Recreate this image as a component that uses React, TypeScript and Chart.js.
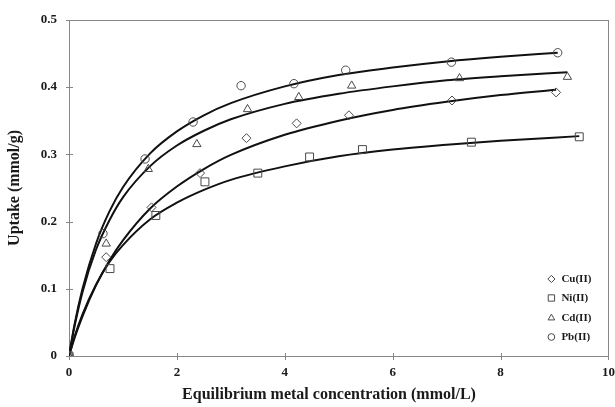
import { useEffect, useRef } from "react";
import { Chart, registerables } from "chart.js";
import { drawPoint } from "chart.js/helpers";

Chart.register(...registerables);

// Experimental data (mmol/L, mmol/g)
const cuX = [0, 0.69, 1.53, 2.43, 3.29, 4.22, 5.19, 7.1, 9.03];
const cuY = [0, 0.147, 0.221, 0.272, 0.324, 0.346, 0.358, 0.38, 0.392];
const niX = [0, 0.76, 1.61, 2.52, 3.5, 4.46, 5.44, 7.46, 9.46];
const niY = [0, 0.13, 0.209, 0.259, 0.272, 0.296, 0.307, 0.318, 0.326];
const cdX = [0, 0.69, 1.47, 2.37, 3.31, 4.26, 5.24, 7.24, 9.24];
const cdY = [0, 0.167, 0.278, 0.315, 0.367, 0.385, 0.402, 0.413, 0.415];
const pbX = [0, 0.63, 1.41, 2.3, 3.19, 4.17, 5.13, 7.09, 9.06];
const pbY = [0, 0.182, 0.293, 0.348, 0.402, 0.405, 0.425, 0.437, 0.451];

// Fitted curves
const cuFitX = [0, 0.1, 0.25, 0.5, 0.75, 1, 1.5, 2, 2.5, 3, 4, 5, 6, 7, 8, 9.03];
const cuFitY = [0, 0.026, 0.059, 0.105, 0.142, 0.172, 0.219, 0.252, 0.278, 0.299, 0.329, 0.35, 0.366, 0.378, 0.388, 0.396];
const niFitX = [0, 0.1, 0.25, 0.5, 0.75, 1, 1.5, 2, 2.5, 3, 4, 5, 6, 7, 8, 9.46];
const niFitY = [0, 0.028, 0.062, 0.106, 0.14, 0.165, 0.203, 0.228, 0.247, 0.262, 0.282, 0.297, 0.307, 0.314, 0.32, 0.327];
const cdFitX = [0, 0.1, 0.25, 0.5, 0.75, 1, 1.5, 2, 2.5, 3, 4, 5, 6, 7, 8, 9.24];
const cdFitY = [0, 0.043, 0.095, 0.158, 0.202, 0.236, 0.282, 0.313, 0.335, 0.352, 0.375, 0.39, 0.401, 0.41, 0.416, 0.422];
const pbFitX = [0, 0.1, 0.25, 0.5, 0.75, 1, 1.5, 2, 2.5, 3, 4, 5, 6, 7, 8, 9.06];
const pbFitY = [0, 0.046, 0.1, 0.167, 0.215, 0.251, 0.301, 0.334, 0.358, 0.376, 0.401, 0.418, 0.429, 0.438, 0.445, 0.451];

const seriesNames = ["Cu(II)", "Ni(II)", "Cd(II)", "Pb(II)"];
const xTitle = "Equilibrium metal concentration (mmol/L)";
const yTitle = "Uptake (mmol/g)";

const FONT = "'Liberation Serif', 'Times New Roman', serif";
const FRAME = "#868686";
const MARK = "#4a4a4a";

const styles = [
  { style: "rectRot", radius: 4.5 },
  { style: "rect", radius: 5.6 },
  { style: "triangle", radius: 4.8 },
  { style: "circle", radius: 4.2 },
];

const toPts = (xs: number[], ys: number[]) => xs.map((x, i) => ({ x, y: ys[i] }));

export default function App() {
  const ref = useRef<HTMLCanvasElement | null>(null);

  useEffect(() => {
    if (!ref.current) return;
    const pts = [toPts(cuX, cuY), toPts(niX, niY), toPts(cdX, cdY), toPts(pbX, pbY)];
    const fits = [toPts(cuFitX, cuFitY), toPts(niFitX, niFitY), toPts(cdFitX, cdFitY), toPts(pbFitX, pbFitY)];

    const lineSets = fits.map((d, i) => ({
      label: seriesNames[i] + " fit",
      data: d,
      showLine: true,
      borderColor: "#111",
      borderWidth: 2,
      pointRadius: 0,
      cubicInterpolationMode: "monotone" as const,
      fill: false,
      order: 2,
    }));
    const pointSets = pts.map((d, i) => ({
      label: seriesNames[i],
      data: d,
      showLine: false,
      pointStyle: styles[i].style as any,
      pointRadius: styles[i].radius,
      pointBorderColor: MARK,
      pointBackgroundColor: "rgba(255,255,255,0)",
      pointBorderWidth: 1,
      order: 1,
    }));

    const framePlugin = {
      id: "frame",
      beforeDatasetsDraw(chart: any) {
        const { ctx, chartArea: a, scales } = chart;
        ctx.save();
        ctx.strokeStyle = FRAME;
        ctx.lineWidth = 1;
        ctx.strokeRect(Math.round(a.left) + 0.5, Math.round(a.top) + 0.5, Math.round(a.right - a.left), Math.round(a.bottom - a.top));
        ctx.beginPath();
        for (const t of scales.y.ticks) {
          const py = Math.round(scales.y.getPixelForValue(t.value)) + 0.5;
          ctx.moveTo(a.left - 3, py);
          ctx.lineTo(a.left + 4, py);
        }
        for (const t of scales.x.ticks) {
          const px = Math.round(scales.x.getPixelForValue(t.value)) + 0.5;
          ctx.moveTo(px, a.bottom - 3);
          ctx.lineTo(px, a.bottom + 4);
        }
        ctx.stroke();
        ctx.restore();
      },
      afterDraw(chart: any) {
        const { ctx, chartArea: a } = chart;
        ctx.save();
        ctx.fillStyle = "#1a1a1a";
        ctx.font = `bold 16px ${FONT}`;
        ctx.textAlign = "center";
        ctx.textBaseline = "middle";
        ctx.fillText(xTitle, 329, 395);
        ctx.translate(15, (a.top + a.bottom) / 2);
        ctx.rotate(-Math.PI / 2);
        ctx.fillText(yTitle, 0, 0);
        ctx.restore();

        // legend
        ctx.save();
        ctx.font = `bold 11px ${FONT}`;
        ctx.textAlign = "left";
        ctx.textBaseline = "middle";
        const rows = [77, 58, 38, 19];
        seriesNames.forEach((name, i) => {
          const y = a.bottom - rows[i];
          ctx.strokeStyle = MARK;
          ctx.fillStyle = "rgba(0,0,0,0)";
          ctx.lineWidth = 1;
          drawPoint(ctx, { pointStyle: styles[i].style as any, radius: styles[i].radius * 0.8, rotation: 0, borderWidth: 1 } as any, a.right - 57, y);
          ctx.fillStyle = "#1a1a1a";
          ctx.fillText(name, a.right - 47, y + 0.5);
        });
        ctx.restore();
      },
    };

    const chart = new Chart(ref.current, {
      type: "scatter",
      data: { datasets: [...lineSets, ...pointSets] as any },
      options: {
        animation: false,
        responsive: true,
        maintainAspectRatio: false,
        layout: { padding: { top: 18, right: 6, left: 0, bottom: 0 } },
        plugins: { legend: { display: false }, tooltip: { enabled: false } },
        scales: {
          x: {
            type: "linear",
            min: 0,
            max: 10,
            ticks: { stepSize: 2, padding: 9, color: "#1a1a1a", font: { family: FONT, size: 13, weight: "bold" } },
            grid: { display: false, drawTicks: false },
            border: { display: false },
            afterFit(s: any) {
              s.height = 51;
              s.paddingRight = 0;
              s.paddingLeft = 0;
            },
          },
          y: {
            type: "linear",
            min: 0,
            max: 0.5,
            ticks: { stepSize: 0.1, padding: 12, color: "#1a1a1a", font: { family: FONT, size: 13, weight: "bold" } },
            grid: { display: false, drawTicks: false },
            border: { display: false },
            afterFit(s: any) {
              s.width = 69;
            },
          },
        },
      },
      plugins: [framePlugin],
    });
    return () => chart.destroy();
  }, []);

  return (
    <div style={{ position: "fixed", left: 0, top: 0, width: 615, height: 407, background: "#fff" }}>
      <canvas ref={ref} />
    </div>
  );
}
